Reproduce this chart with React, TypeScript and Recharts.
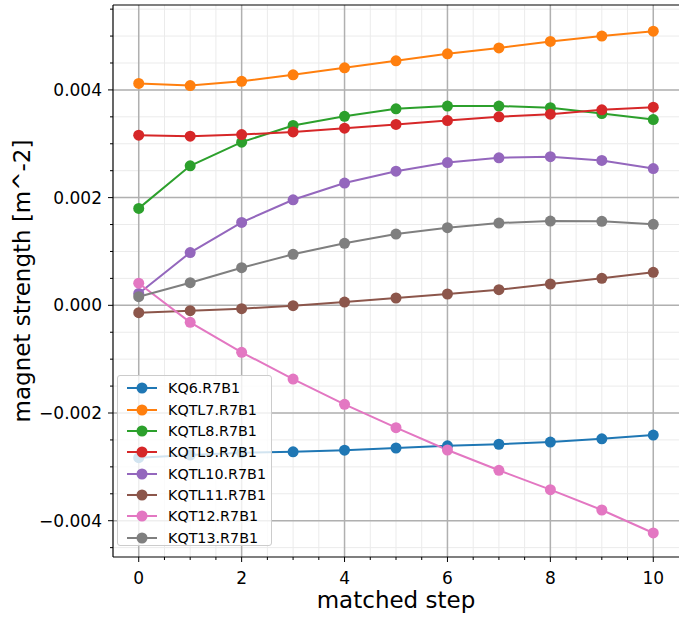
import { LineChart, Line, XAxis, YAxis, CartesianGrid, ReferenceLine } from 'recharts'

// matched step index
const steps = [0, 1, 2, 3, 4, 5, 6, 7, 8, 9, 10]

// magnet strengths per step [m^-2]
const kq6 = [-0.00283, -0.00278, -0.00274, -0.00272, -0.00269, -0.00265, -0.00261, -0.00258, -0.00254, -0.00248, -0.00241]
const kqtl7 = [0.00412, 0.00408, 0.00416, 0.00428, 0.00441, 0.00454, 0.00467, 0.00478, 0.0049, 0.005, 0.00509]
const kqtl8 = [0.0018, 0.00259, 0.00303, 0.00334, 0.00351, 0.00365, 0.0037, 0.0037, 0.00367, 0.00356, 0.00345]
const kqtl9 = [0.00316, 0.00314, 0.00317, 0.00322, 0.00329, 0.00336, 0.00343, 0.0035, 0.00355, 0.00363, 0.00368]
const kqtl10 = [0.00022, 0.00098, 0.00154, 0.00196, 0.00227, 0.00249, 0.00265, 0.00274, 0.00276, 0.00269, 0.00254]
const kqtl11 = [-0.000137, -0.0001, -0.000063, -0.000007, 0.000061, 0.000136, 0.00021, 0.00029, 0.000396, 0.000501, 0.000613]
const kqt12 = [0.00041, -0.000316, -0.000873, -0.001369, -0.001838, -0.002273, -0.002687, -0.003064, -0.003424, -0.003801, -0.004228]
const kqt13 = [0.00016, 0.00042, 0.000698, 0.000947, 0.001151, 0.001324, 0.001441, 0.001528, 0.001565, 0.00156, 0.001504]

const seriesNames = ['KQ6.R7B1', 'KQTL7.R7B1', 'KQTL8.R7B1', 'KQTL9.R7B1', 'KQTL10.R7B1', 'KQTL11.R7B1', 'KQT12.R7B1', 'KQT13.R7B1']
const seriesValues = [kq6, kqtl7, kqtl8, kqtl9, kqtl10, kqtl11, kqt12, kqt13]
const colors = ['#1f77b4', '#ff7f0e', '#2ca02c', '#d62728', '#9467bd', '#8c564b', '#e377c2', '#7f7f7f']

// axis ticks (major + minor)
const xMajor = [0, 2, 4, 6, 8, 10]
const xMinor = [0, 0.5, 1, 1.5, 2, 2.5, 3, 3.5, 4, 4.5, 5, 5.5, 6, 6.5, 7, 7.5, 8, 8.5, 9, 9.5, 10]
const yMajor = [-0.004, -0.002, 0, 0.002, 0.004]
const yMinor = [-0.0045, -0.004, -0.0035, -0.003, -0.0025, -0.002, -0.0015, -0.001, -0.0005, 0, 0.0005, 0.001, 0.0015, 0.002, 0.0025, 0.003, 0.0035, 0.004, 0.0045, 0.005, 0.0055]

const X_DOMAIN: [number, number] = [-0.5, 10.5]
const Y_DOMAIN: [number, number] = [-0.004674, 0.005577]

const data = steps.map((s, i) => {
  const row: Record<string, number> = { step: s }
  seriesNames.forEach((name, k) => {
    row[name] = seriesValues[k][i]
  })
  return row
})

const FONT = '"DejaVu Sans", sans-serif'
const TICK_FONT = 17

const isMajor = (v: number, list: number[]) => list.some((m) => Math.abs(m - v) < 1e-9)

const fmtY = (v: number) => {
  const s = Math.abs(v).toFixed(3)
  return v < -1e-9 ? '\u2212' + s : s
}

function XTick(props: any) {
  const { x, y, payload } = props
  const major = isMajor(payload.value, xMajor)
  return (
    <g>
      <line x1={x} x2={x} y1={y} y2={y + (major ? 5 : 3)} stroke="#000" strokeWidth={1} />
      {major && (
        <text x={x} y={y + 27} textAnchor="middle" fontSize={TICK_FONT} fontFamily={FONT} fill="#000">
          {payload.value}
        </text>
      )}
    </g>
  )
}

function YTick(props: any) {
  const { x, y, payload } = props
  const major = isMajor(payload.value, yMajor)
  return (
    <g>
      <line x1={x - (major ? 5 : 3)} x2={x} y1={y} y2={y} stroke="#000" strokeWidth={1} />
      {major && (
        <text x={x - 11} y={y + 6} textAnchor="end" fontSize={TICK_FONT} fontFamily={FONT} fill="#000">
          {fmtY(payload.value)}
        </text>
      )}
    </g>
  )
}

function YLabel(props: any) {
  const { viewBox } = props
  const cy = viewBox.y + viewBox.height / 2
  return (
    <text
      x={22}
      y={cy}
      transform={`rotate(-90, 22, ${cy})`}
      textAnchor="middle"
      dominantBaseline="central"
      fontSize={23}
      fontFamily={FONT}
      fill="#000"
    >
      magnet strength [m^-2]
    </text>
  )
}

function XLabel(props: any) {
  const { viewBox } = props
  return (
    <text x={viewBox.x + viewBox.width / 2} y={608} textAnchor="middle" fontSize={23} fontFamily={FONT} fill="#000">
      matched step
    </text>
  )
}

function LegendBox() {
  return (
    <div
      style={{
        position: 'absolute',
        left: 117,
        top: 375,
        width: 155,
        height: 171,
        boxSizing: 'border-box',
        background: 'rgba(255,255,255,0.8)',
        border: '1px solid #cccccc',
        borderRadius: 3,
        paddingTop: 1.6,
        fontFamily: FONT,
        fontSize: 14.3,
        color: '#000',
      }}
    >
      {seriesNames.map((name, i) => (
        <div key={name} style={{ height: 21.35, display: 'flex', alignItems: 'center' }}>
          <svg width={40} height={14} style={{ marginLeft: 8, flexShrink: 0 }}>
            <line x1={1} x2={31} y1={7} y2={7} stroke={colors[i]} strokeWidth={2} />
            <circle cx={16} cy={7} r={5.5} fill={colors[i]} />
          </svg>
          <span style={{ marginLeft: 2, whiteSpace: 'nowrap' }}>{name}</span>
        </div>
      ))}
    </div>
  )
}

export default function App() {
  return (
    <div style={{ position: 'absolute', left: 0, top: 0, width: 679, height: 617, background: '#fff' }}>
      <LineChart width={679} height={617} data={data} margin={{ top: 5, right: 0, bottom: 0, left: 0 }}>
        <CartesianGrid
          horizontalValues={yMinor}
          verticalValues={xMinor}
          stroke="#ebebeb"
          strokeWidth={1}
        />
        <CartesianGrid
          horizontalValues={yMajor}
          verticalValues={xMajor}
          stroke="#b0b0b0"
          strokeWidth={1.5}
        />
        <XAxis
          dataKey="step"
          type="number"
          domain={X_DOMAIN}
          ticks={xMinor}
          interval={0}
          height={60}
          tickSize={0}
          tickMargin={0}
          tickLine={false}
          tick={<XTick />}
          axisLine={{ stroke: '#000', strokeWidth: 1.2 }}
          allowDataOverflow
          label={<XLabel />}
        />
        <YAxis
          type="number"
          domain={Y_DOMAIN}
          ticks={yMinor}
          interval={0}
          width={113}
          tickSize={0}
          tickMargin={0}
          tickLine={false}
          tick={<YTick />}
          axisLine={{ stroke: '#000', strokeWidth: 1.2 }}
          allowDataOverflow
          label={<YLabel />}
        />
        <ReferenceLine y={Y_DOMAIN[1]} stroke="#000" strokeWidth={1.2} ifOverflow="visible" />
        {seriesNames.map((name, i) => (
          <Line
            key={name}
            dataKey={name}
            stroke={colors[i]}
            strokeWidth={2}
            dot={{ r: 5.5, fill: colors[i], stroke: colors[i], strokeWidth: 0 }}
            activeDot={false}
            isAnimationActive={false}
          />
        ))}
      </LineChart>
      <LegendBox />
    </div>
  )
}
